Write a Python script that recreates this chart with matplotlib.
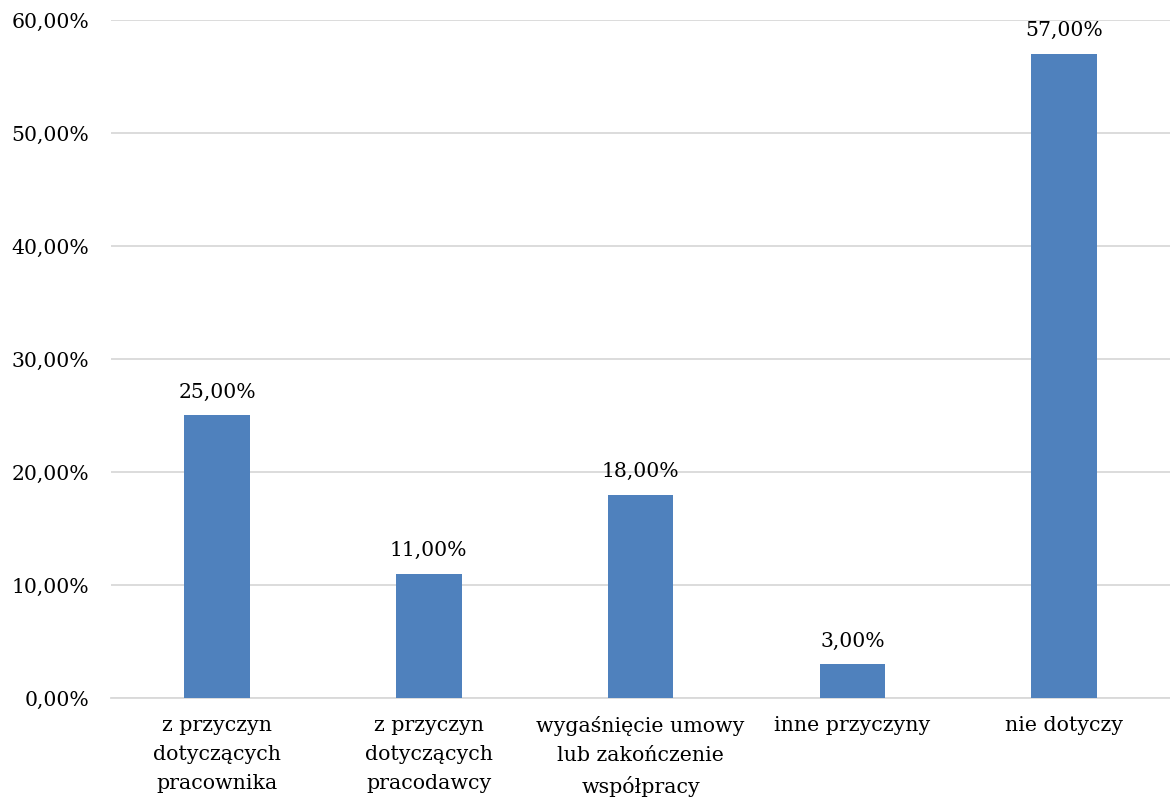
import matplotlib.pyplot as plt
from matplotlib.ticker import FuncFormatter

categories = [
    "z przyczyn\ndotyczących\npracownika",
    "z przyczyn\ndotyczących\npracodawcy",
    "wygaśnięcie umowy\nlub zakończenie\nwspółpracy",
    "inne przyczyny",
    "nie dotyczy",
]
values = [25.0, 11.0, 18.0, 3.0, 57.0]
yticks = [0, 10, 20, 30, 40, 50, 60]

plt.rcParams["font.family"] = ["DejaVu Serif"]

fig = plt.figure(figsize=(11.7, 8), dpi=100)
ax = fig.add_axes([0.095, 0.1275, 0.905, 0.8475])

x = range(len(categories))
ax.bar(x, values, width=0.31, color="#4F81BD", zorder=3)
for xi, v in zip(x, values):
    ax.text(xi, v + 1.2, f"{v:.2f}%".replace(".", ","), ha="center", va="bottom",
            fontsize=14.7, color="#000000")

ax.set_xlim(-0.5, len(categories) - 0.5)
ax.set_ylim(0, 60)
ax.set_yticks(yticks)
ax.yaxis.set_major_formatter(FuncFormatter(lambda v, _: f"{v:.2f}%".replace(".", ",")))
ax.set_xticks(list(x))
ax.set_xticklabels(categories, fontsize=14.8, linespacing=1.66, va="top")
ax.tick_params(axis="y", labelsize=14.7, length=0, pad=16)
ax.tick_params(axis="x", length=0, pad=13)
ax.grid(axis="y", color="#D9D9D9", linewidth=1.3, zorder=0)
for s in ["top", "right", "left"]:
    ax.spines[s].set_visible(False)
ax.spines["bottom"].set_color("#D9D9D9")
ax.spines["bottom"].set_linewidth(1.3)

fig.savefig("out.png", dpi=100)
